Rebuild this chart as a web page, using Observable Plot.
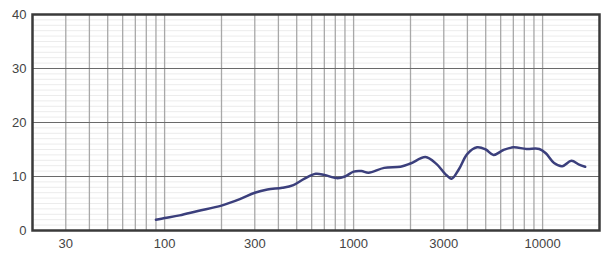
<!DOCTYPE html>
<html>
<head>
<meta charset="utf-8">
<script src="https://cdn.jsdelivr.net/npm/d3@7"></script>
<script src="https://cdn.jsdelivr.net/npm/@observablehq/plot@0.6"></script>
<style>
  html, body { margin: 0; padding: 0; background: #fff; }
  #chart svg { display: block; }
</style>
</head>
<body>
<div id="chart"></div>
<script>
const freq = [90, 100, 120, 150, 200, 250, 300, 350, 420, 480, 550, 630, 700, 815, 900, 1000, 1100, 1200, 1450, 1770, 2000, 2400, 2750, 3050, 3300, 3600, 4000, 4500, 5000, 5500, 6200, 7000, 8200, 9600, 10400, 11500, 12700, 14200, 15600, 16800];
const level = [2.0, 2.3, 2.8, 3.6, 4.6, 5.8, 7.0, 7.6, 7.9, 8.4, 9.6, 10.5, 10.3, 9.7, 10.0, 10.9, 11.0, 10.7, 11.6, 11.8, 12.4, 13.6, 12.3, 10.5, 9.6, 11.3, 14.2, 15.4, 15.0, 14.0, 14.9, 15.4, 15.1, 15.1, 14.3, 12.5, 11.9, 12.9, 12.2, 11.8];
const xTicks = [30, 100, 300, 1000, 3000, 10000];
const yTicks = [0, 10, 20, 30, 40];
const xGrid = [30, 40, 50, 60, 70, 80, 90, 100, 200, 300, 400, 500, 600, 700, 800, 900, 1000, 2000, 3000, 4000, 5000, 6000, 7000, 8000, 9000, 10000];
const yMajorGrid = [10, 20, 30];
const yMinorGrid = d3.range(1, 40).filter(v => v % 10 !== 0);

const data = freq.map((f, i) => ({f, v: level[i]}));

const chart = Plot.plot({
  width: 604,
  height: 254,
  marginLeft: 32,
  marginRight: 5,
  marginTop: 14,
  marginBottom: 24,
  style: {background: "#fff", fontFamily: "Liberation Sans, Arial, sans-serif"},
  x: {type: "log", domain: [20, 20000]},
  y: {domain: [0, 40]},
  marks: [
    Plot.ruleY(yMinorGrid, {stroke: "#ececec", strokeWidth: 1}),
    Plot.ruleX(xGrid, {stroke: "#a8a8a8", strokeWidth: 1.3}),
    Plot.ruleY(yMajorGrid, {stroke: "#6a6a6a", strokeWidth: 1}),
    Plot.line(data, {x: "f", y: "v", curve: "catmull-rom", stroke: "#3b3f7c", strokeWidth: 2.5}),
    Plot.frame({stroke: "#3a3a3a", strokeWidth: 2.5}),
    Plot.axisX({ticks: xTicks, tickSize: 0, tickPadding: 8, tickFormat: d => String(d), fontSize: 13, color: "#444", label: null}),
    Plot.axisY({ticks: yTicks, tickSize: 0, tickPadding: 6, fontSize: 13, color: "#444", label: null})
  ]
});
document.getElementById("chart").appendChild(chart);
</script>
</body>
</html>
